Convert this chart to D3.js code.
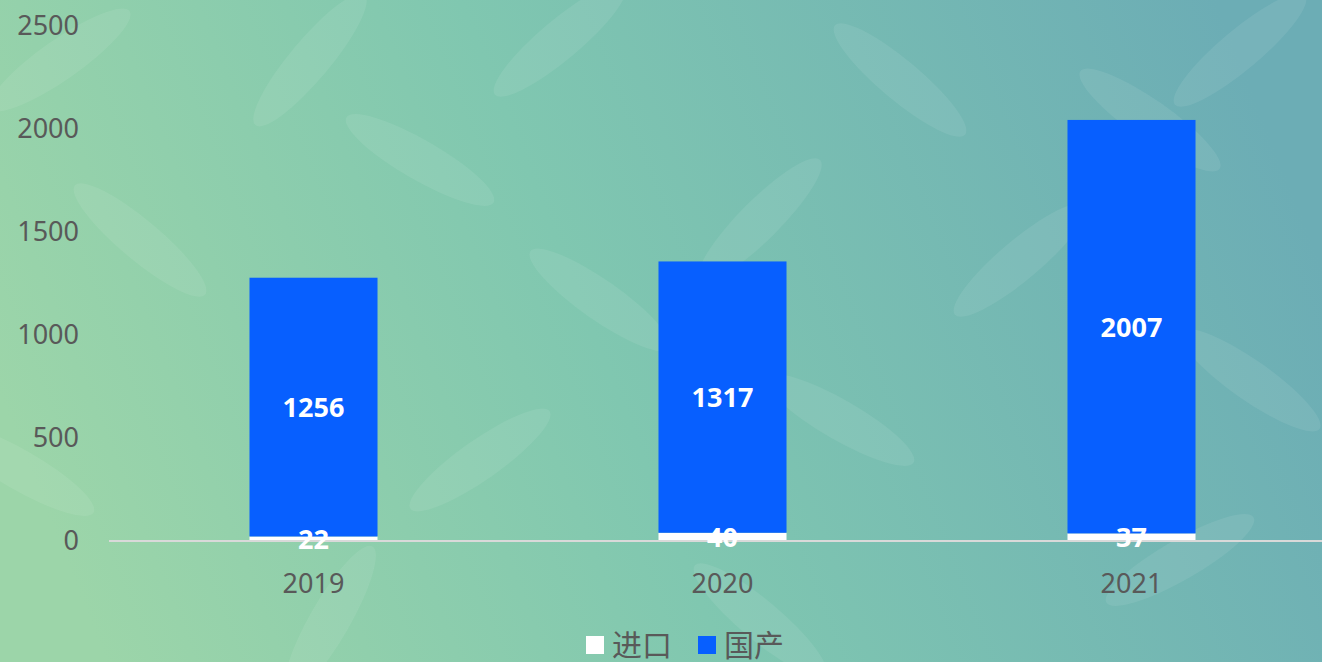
<!DOCTYPE html>
<html>
<head>
<meta charset="utf-8">
<script src="https://cdn.jsdelivr.net/npm/d3@7"></script>
<style>
  html, body { margin: 0; padding: 0; overflow: hidden; }
  text { font-family: "Noto Sans", "Noto Sans CJK SC", sans-serif; }
</style>
</head>
<body>
<script>
var width = 1322, height = 662;

// data
var years = ["2019", "2020", "2021"];
var imported = [22, 40, 37];        // 进口
var domestic = [1256, 1317, 2007];  // 国产
var seriesNames = ["进口", "国产"];
var yTicks = [0, 500, 1000, 1500, 2000, 2500];

var colors = { "进口": "#ffffff", "国产": "#075fff" };

var svg = d3.select("body").append("svg")
    .attr("width", width)
    .attr("height", height);

var defs = svg.append("defs");
defs.append("linearGradient")
    .attr("id", "bg")
    .attr("x1", "0%").attr("y1", "60%")
    .attr("x2", "100%").attr("y2", "40%")
    .selectAll("stop")
    .data([{offset: "0%", color: "#9cd5a9"}, {offset: "45%", color: "#80c7b0"}, {offset: "100%", color: "#6cadb5"}])
    .enter().append("stop")
    .attr("offset", function(d){ return d.offset; })
    .attr("stop-color", function(d){ return d.color; });

svg.append("rect").attr("width", width).attr("height", height).attr("fill", "url(#bg)");

// faint leaf watermark (decoration only)
var leaves = [
  [60, 60, -35], [140, 240, 40], [20, 470, 30], [310, 60, -50], [420, 160, 30],
  [560, 40, -40], [600, 300, 35], [760, 220, -45], [840, 420, 30], [900, 80, 40],
  [1020, 260, -40], [1150, 120, 35], [1240, 50, -40], [1250, 380, 35], [1180, 560, -30],
  [330, 620, -60], [760, 620, 40], [480, 460, -35]
];
svg.append("g").selectAll("ellipse")
    .data(leaves)
    .enter().append("ellipse")
    .attr("cx", 0).attr("cy", 0)
    .attr("rx", 85).attr("ry", 20)
    .attr("transform", function(d){ return "translate(" + d[0] + "," + d[1] + ") rotate(" + d[2] + ")"; })
    .attr("fill", "#ffffff")
    .attr("opacity", 0.08);

var x = d3.scaleBand()
    .domain(years)
    .range([109, 1336])
    .paddingInner(0.687)
    .paddingOuter(0.3435);

var y = d3.scaleLinear()
    .domain([0, 2500])
    .range([541, 26]);

var rows = years.map(function(yr, i){
  return {year: yr, "进口": imported[i], "国产": domestic[i]};
});
var stacked = d3.stack().keys(seriesNames)(rows);

// y axis labels
var yAxis = d3.axisLeft(y).tickValues(yTicks).tickSize(0).tickPadding(0).tickFormat(d3.format("d"));
var yg = svg.append("g").attr("transform", "translate(79,0)").call(yAxis);
yg.select(".domain").remove();
yg.selectAll("text")
    .attr("font-size", 27)
    .attr("fill", "#595959")
    .attr("font-family", "Noto Sans");

// bars
var groups = svg.append("g").selectAll("g")
    .data(stacked)
    .enter().append("g")
    .attr("fill", function(d){ return colors[d.key]; });

groups.selectAll("rect")
    .data(function(d){ return d; })
    .enter().append("rect")
    .attr("x", function(d){ return x(d.data.year); })
    .attr("width", x.bandwidth())
    .attr("y", function(d){ return y(d[1]); })
    .attr("height", function(d){ return y(d[0]) - y(d[1]); });

// baseline
var xAxis = d3.axisBottom(x).tickSize(0).tickPadding(0);
var xg = svg.append("g").attr("transform", "translate(0," + y(0) + ")").call(xAxis);
xg.select(".domain")
    .attr("d", "M109,0H" + width)
    .attr("stroke", "#d9d9d9")
    .attr("stroke-width", 2);
xg.selectAll("text")
    .attr("y", 42)
    .attr("dy", "0.36em")
    .attr("font-size", 27)
    .attr("fill", "#595959")
    .attr("font-family", "Noto Sans");

// value labels
var labels = svg.append("g");
stacked.forEach(function(s){
  labels.selectAll(null)
      .data(s)
      .enter().append("text")
      .attr("x", function(d){ return x(d.data.year) + x.bandwidth() / 2; })
      .attr("y", function(d){ return (y(d[0]) + y(d[1])) / 2; })
      .attr("dy", "0.38em")
      .attr("text-anchor", "middle")
      .attr("font-size", 27)
      .attr("font-weight", "bold")
      .attr("fill", "#ffffff")
      .text(function(d){ return d[1] - d[0]; });
});

// legend
var legendX = [586, 698];
var legend = svg.append("g").selectAll("g")
    .data(seriesNames)
    .enter().append("g")
    .attr("transform", function(d, i){ return "translate(" + legendX[i] + ",636)"; });
legend.append("rect")
    .attr("width", 18).attr("height", 18)
    .attr("fill", function(d){ return colors[d]; });
legend.append("text")
    .attr("x", 26).attr("y", 9)
    .attr("dy", "0.36em")
    .attr("font-size", 30)
    .attr("font-family", "Noto Sans CJK SC")
    .attr("fill", "#595959")
    .text(function(d){ return d; });
</script>
</body>
</html>
